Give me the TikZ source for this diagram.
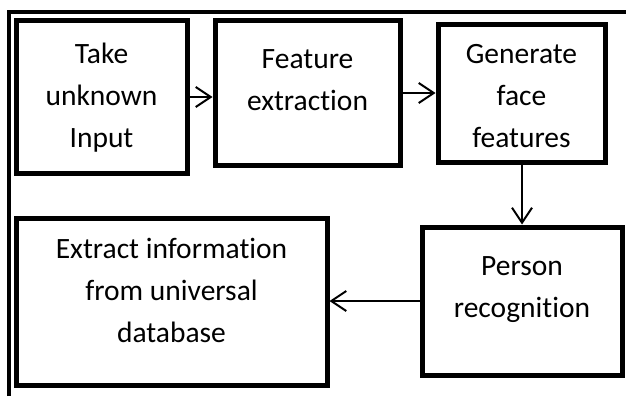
\documentclass[tikz,border=0pt]{standalone}
\usepackage{fontspec}
\setmainfont[Ligatures=NoCommon]{Carlito}
\usetikzlibrary{arrows.meta}
\begin{document}
\begin{tikzpicture}[x=1pt,y=-1pt,
  stepbox/.style={draw=black,line width=5pt,inner sep=0pt,fill=white},
  boxtext/.style={align=center,inner sep=0pt,font=\fontsize{29.5}{42}\selectfont,anchor=base},
  conn/.style={line width=2pt,-{Straight Barb[length=15pt,width=20pt,line width=2pt]}},
  frame/.style={line width=4pt}]
\useasboundingbox (0,0) rectangle (626,396);
\draw[frame] (9,396) -- (9,12) -- (626,12);
% boxes
\node[stepbox,minimum width=171pt,minimum height=152pt] (b1) at (101.5,97) {};
\node[stepbox,minimum width=185pt,minimum height=144pt] (b2) at (307.5,93) {};
\node[stepbox,minimum width=167pt,minimum height=137pt] (b3) at (521.5,93.5) {};
\node[stepbox,minimum width=200pt,minimum height=148pt] (b4) at (522,301) {};
\node[stepbox,minimum width=311pt,minimum height=167pt] (b5) at (171.5,301.5) {};
% texts (base anchor = baseline of last line)
\node[boxtext] (t1) at (101.5,147) {Take\\unknown\\Input};
\node[boxtext] (t2) at (307.5,110) {Feature\\extraction};
\begin{scope}
\clip (440,20) rectangle (604,147.5);
\node[boxtext] (t3) at (521.5,147) {Generate\\face\\features};
\end{scope}
\node[boxtext] (t4) at (522,317) {Person\\recognition};
\node[boxtext] (t5) at (171.5,342) {Extract information\\from universal\\database};
% connectors
\draw[conn] (b1.east |- 0,97) -- (b2.west |- 0,97);
\draw[conn] (b2.east |- 0,93) -- (b3.west |- 0,93);
\draw[conn] (b3.south -| 522,0) -- (b4.north);
\draw[conn] (b4.west) -- (b5.east |- b4.west);
\end{tikzpicture}
\end{document}
